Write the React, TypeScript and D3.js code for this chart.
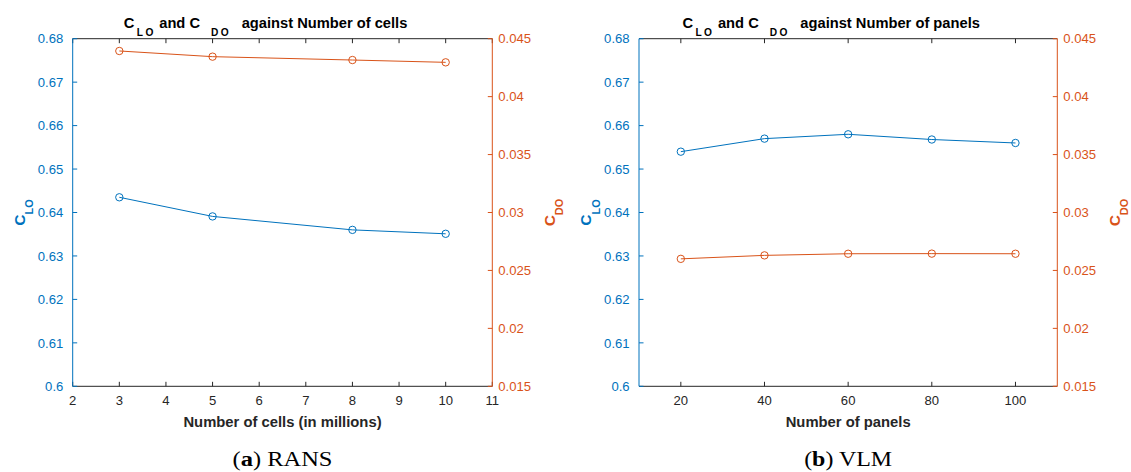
import React from "react";
import * as d3 from "d3";

const cellsX = [3, 5, 8, 10];
const cellsCL = [0.6435, 0.6391, 0.636, 0.6351];
const cellsCD = [0.04394, 0.04345, 0.04316, 0.04296];

const panelsX = [20, 40, 60, 80, 100];
const panelsCL = [0.654, 0.657, 0.658, 0.6568, 0.656];
const panelsCD = [0.026, 0.0263, 0.02644, 0.02645, 0.02644];

const leftTicks = [0.6, 0.61, 0.62, 0.63, 0.64, 0.65, 0.66, 0.67, 0.68];
const rightTicks = [0.015, 0.02, 0.025, 0.03, 0.035, 0.04, 0.045];
const cellsTicks = [2, 3, 4, 5, 6, 7, 8, 9, 10, 11];
const panelsTicks = [20, 40, 60, 80, 100];

const BLUE = "#0072BD";
const ORANGE = "#D95319";
const AX = "#262626";
const FONT = "'Liberation Sans', Arial, Helvetica, sans-serif";
const SERIF = "'Liberation Serif', 'Times New Roman', serif";

type PanelProps = {
  x0: number;
  x1: number;
  xDomain: [number, number];
  xTicks: number[];
  xs: number[];
  cl: number[];
  cd: number[];
  titleTail: string;
  xLabel: string;
  capLetter: string;
  capText: string;
  capWidth: number;
  rightLabelX: number;
};

function Panel(p: PanelProps) {
  const top = 38.7;
  const bottom = 386.3;
  const x = d3.scaleLinear().domain(p.xDomain).range([p.x0, p.x1]);
  const yl = d3.scaleLinear().domain([0.6, 0.68]).range([bottom, top]);
  const yr = d3.scaleLinear().domain([0.015, 0.045]).range([bottom, top]);
  const lineL = d3.line<number>().x((_, i) => x(p.xs[i])).y((d) => yl(d));
  const lineR = d3.line<number>().x((_, i) => x(p.xs[i])).y((d) => yr(d));
  const cx = (p.x0 + p.x1) / 2;
  const midY = 212.5;
  const tl = 4.5;
  const tfs = 13.1;
  return (
    <g fontFamily={FONT}>
      {/* top & bottom axes */}
      <line x1={p.x0} x2={p.x1} y1={bottom} y2={bottom} stroke={AX} strokeWidth={1} />
      <line x1={p.x0} x2={p.x1} y1={top} y2={top} stroke={AX} strokeWidth={1} />
      {p.xTicks.map((t) => (
        <g key={"xt" + t}>
          <line x1={x(t)} x2={x(t)} y1={bottom} y2={bottom - tl} stroke={AX} />
          <line x1={x(t)} x2={x(t)} y1={top} y2={top + tl} stroke={AX} />
          <text x={x(t)} y={405} fontSize={tfs} fill={AX} textAnchor="middle">
            {t}
          </text>
        </g>
      ))}
      {/* left axis */}
      <line x1={p.x0} x2={p.x0} y1={top} y2={bottom} stroke={BLUE} />
      {leftTicks.map((t) => (
        <g key={"yl" + t}>
          <line x1={p.x0} x2={p.x0 + tl} y1={yl(t)} y2={yl(t)} stroke={BLUE} />
          <text x={p.x0 - 9.4} y={yl(t)} dy="0.36em" fontSize={tfs} fill={BLUE} textAnchor="end">
            {String(t)}
          </text>
        </g>
      ))}
      {/* right axis */}
      <line x1={p.x1} x2={p.x1} y1={top} y2={bottom} stroke={ORANGE} />
      {rightTicks.map((t) => (
        <g key={"yr" + t}>
          <line x1={p.x1} x2={p.x1 - tl} y1={yr(t)} y2={yr(t)} stroke={ORANGE} />
          <text x={p.x1 + 6} y={yr(t)} dy="0.36em" fontSize={tfs} fill={ORANGE} textAnchor="start">
            {String(+t.toFixed(3))}
          </text>
        </g>
      ))}
      {/* data */}
      <path d={lineL(p.cl) || ""} fill="none" stroke={BLUE} strokeWidth={1} />
      {p.cl.map((v, i) => (
        <circle key={"cl" + i} cx={x(p.xs[i])} cy={yl(v)} r={3.7} fill="none" stroke={BLUE} strokeWidth={1} />
      ))}
      <path d={lineR(p.cd) || ""} fill="none" stroke={ORANGE} strokeWidth={1} />
      {p.cd.map((v, i) => (
        <circle key={"cd" + i} cx={x(p.xs[i])} cy={yr(v)} r={3.7} fill="none" stroke={ORANGE} strokeWidth={1} />
      ))}
      {/* title */}
      <text x={cx - 17} y={28.3} fontSize={14.7} fontWeight="bold" fill="#000" textAnchor="middle">
        <tspan>C</tspan>
        <tspan dx={2.5} dy={7.2} fontSize={10.2} letterSpacing={2.4}>LO</tspan>
        <tspan dx={3.5} dy={-7.2}>and C</tspan>
        <tspan dx={11} dy={7.2} fontSize={10.2} letterSpacing={2.4}>DO</tspan>
        <tspan dx={10.5} dy={-7.2}>{p.titleTail}</tspan>
      </text>
      {/* y labels */}
      <text
        transform={`translate(${p.x0 - 47.7},${midY}) rotate(-90)`}
        fontSize={15.5}
        fontWeight="bold"
        fill={BLUE}
        textAnchor="middle"
      >
        <tspan>C</tspan>
        <tspan dy={8.3} fontSize={11}>LO</tspan>
      </text>
      <text
        transform={`translate(${p.rightLabelX},${midY}) rotate(-90)`}
        fontSize={15.5}
        fontWeight="bold"
        fill={ORANGE}
        textAnchor="middle"
      >
        <tspan>C</tspan>
        <tspan dy={8.3} fontSize={11}>DO</tspan>
      </text>
      {/* x label */}
      <text x={cx} y={426.5} fontSize={14.8} fontWeight="bold" fill={AX} textAnchor="middle">
        {p.xLabel}
      </text>
      {/* caption */}
      <text
        x={cx}
        y={466}
        fontSize={20}
        fill="#000"
        textAnchor="middle"
        fontFamily={SERIF}
        textLength={p.capWidth}
        lengthAdjust="spacingAndGlyphs"
      >
        (<tspan fontWeight="bold">{p.capLetter}</tspan>) {p.capText}
      </text>
    </g>
  );
}

export default function App() {
  return (
    <svg width={1131} height={472} style={{ position: "absolute", left: 0, top: 0, background: "#fff" }}>
      <rect width={1131} height={472} fill="#fff" />
      <Panel
        x0={72.7}
        x1={492.3}
        xDomain={[2, 11]}
        xTicks={cellsTicks}
        xs={cellsX}
        cl={cellsCL}
        cd={cellsCD}
        titleTail="against Number of cells"
        xLabel="Number of cells (in millions)"
        capLetter="a"
        capText="RANS"
        capWidth={100}
        rightLabelX={555}
      />
      <Panel
        x0={639}
        x1={1057.3}
        xDomain={[10, 110]}
        xTicks={panelsTicks}
        xs={panelsX}
        cl={panelsCL}
        cd={panelsCD}
        titleTail="against Number of panels"
        xLabel="Number of panels"
        capLetter="b"
        capText="VLM"
        capWidth={88}
        rightLabelX={1120}
      />
    </svg>
  );
}
